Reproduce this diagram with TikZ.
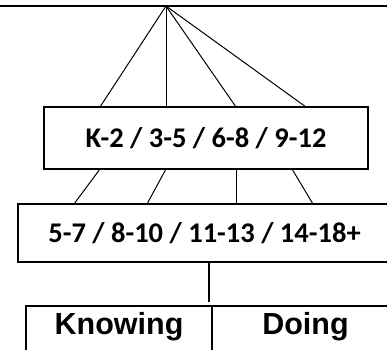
\documentclass[tikz,border=0pt]{standalone}
\usepackage{fontspec}
\newfontfamily\gradefont{Carlito}
\newfontfamily\kindfont{Liberation Sans}
\begin{document}
\begin{tikzpicture}[x=1pt,y=-1pt,
		box/.style={draw, line width=2pt, inner sep=0pt, outer sep=0pt},
		band/.style={font=\gradefont\bfseries\fontsize{28.5}{30}\selectfont, text height=18pt, text depth=0pt},
		cell/.style={font=\kindfont\bfseries\fontsize{30.5}{32}\selectfont, text height=19pt, text depth=9pt},
		link/.style={line width=1pt}]
	\useasboundingbox (0,0) rectangle (387,349);

	% Top rule
	\coordinate (left) at (0,6);
	\coordinate (right) at (387,6);
	\coordinate (apex) at (166,6);
	\draw[line width=2pt] (left) -- (right);

	% Boxes
	\node[box, band, minimum width=324pt, minimum height=62pt] (grade) at (206,138) {K-2 / 3-5 / 6-8 / 9-12};
	\node[box, band, minimum width=373pt, minimum height=58pt] (age) at (204.5,233) {5-7 / 8-10 / 11-13 / 14-18+};
	\node[box, cell, minimum width=186pt, minimum height=46pt, anchor=north west] (knowing) at (26,306) {Knowing};
	\node[box, cell, minimum width=187pt, minimum height=46pt, anchor=north west] (doing) at (knowing.north east) {Doing};

	% Links
	\foreach \x in {100,166,236,306}
		\draw[link] (apex) -- (\x,0 |- grade.north);
	\foreach \x/\y in {100/74,166/147,236/236,292/313}
		\draw[link] (\x,0 |- grade.south) -- (\y,0 |- age.north);
	\draw[line width=2pt, shorten >=4pt] (209,0 |- age.south) -- (209,0 |- knowing.north);
\end{tikzpicture}
\end{document}
